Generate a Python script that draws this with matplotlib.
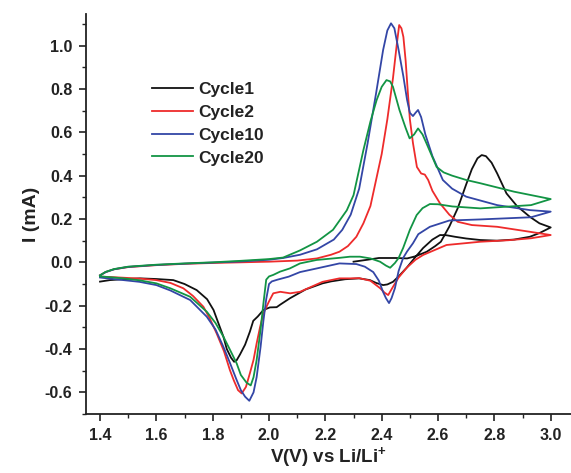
import matplotlib
matplotlib.use('Agg')
import matplotlib.pyplot as plt
from matplotlib.ticker import MultipleLocator

plt.rcParams['font.family'] = ['Liberation Sans', 'DejaVu Sans']
plt.rcParams['mathtext.fontset'] = 'custom'
plt.rcParams['mathtext.bf'] = 'Liberation Sans:bold'
plt.rcParams['mathtext.rm'] = 'Liberation Sans'
plt.rcParams['axes.unicode_minus'] = False

# Cycle 1 (starts at OCV ~2.3 V, goes up to 3.0 then down to 1.4)
V1 = [2.30, 2.35, 2.39, 2.45, 2.49, 2.52, 2.56, 2.59, 2.61, 2.64, 2.67, 2.70, 2.72, 2.74, 2.755,
      2.77, 2.79, 2.81, 2.843, 2.88, 2.926, 2.96, 3.00,
      2.96, 2.926, 2.87, 2.81, 2.75, 2.70, 2.66, 2.63, 2.607, 2.58, 2.547, 2.52, 2.488, 2.46,
      2.44, 2.42, 2.405, 2.38, 2.358, 2.32, 2.27, 2.22, 2.19, 2.13, 2.074, 2.04, 2.027,
      2.003, 1.98, 1.96, 1.944, 1.932, 1.915, 1.897, 1.885, 1.876, 1.865, 1.85, 1.838,
      1.82, 1.803, 1.78, 1.743, 1.70, 1.66, 1.60, 1.542, 1.48, 1.435, 1.40]
I1 = [0.003, 0.012, 0.020, 0.020, 0.018, 0.028, 0.049, 0.075, 0.095, 0.165, 0.25, 0.36, 0.43, 0.48, 0.495,
      0.49, 0.46, 0.41, 0.318, 0.26, 0.21, 0.18, 0.161,
      0.135, 0.118, 0.105, 0.100, 0.103, 0.110, 0.118, 0.125, 0.126, 0.105, 0.066, 0.025, -0.026, -0.065,
      -0.09, -0.102, -0.105, -0.095, -0.082, -0.074, -0.078, -0.088, -0.097, -0.125, -0.166, -0.195, -0.207,
      -0.208, -0.22, -0.25, -0.27, -0.32, -0.38, -0.425, -0.452, -0.459, -0.44, -0.40, -0.343,
      -0.28, -0.22, -0.17, -0.128, -0.10, -0.082, -0.077, -0.074, -0.078, -0.082, -0.089]

# Cycle 2
V2 = [1.40, 1.42, 1.45, 1.50, 1.60, 1.70, 1.80, 1.90, 2.00, 2.10, 2.17, 2.22, 2.25, 2.28,
      2.31, 2.335, 2.36, 2.38, 2.40, 2.42, 2.44, 2.453, 2.462, 2.47, 2.477, 2.485, 2.493,
      2.50, 2.511, 2.525, 2.54, 2.553, 2.565, 2.58, 2.607, 2.64, 2.67, 2.72, 2.81, 2.926, 3.00,
      2.93, 2.85, 2.75, 2.63, 2.547, 2.52, 2.488, 2.46, 2.44, 2.423, 2.41, 2.394, 2.36, 2.32,
      2.29, 2.25, 2.19, 2.11, 2.075, 2.04, 2.015, 2.00, 1.98, 1.968, 1.956, 1.945, 1.932,
      1.918, 1.903, 1.89, 1.875, 1.861, 1.84, 1.814, 1.79, 1.767, 1.73, 1.696, 1.65, 1.60,
      1.54, 1.483, 1.44, 1.40]
I2 = [-0.060, -0.045, -0.032, -0.022, -0.013, -0.007, -0.003, 0.000, 0.003, 0.008, 0.018, 0.035,
      0.049, 0.075, 0.118, 0.18, 0.26, 0.38, 0.50, 0.66, 0.85, 1.00, 1.095, 1.08, 1.04, 0.93, 0.78,
      0.66, 0.55, 0.44, 0.41, 0.405, 0.38, 0.33, 0.272, 0.22, 0.187, 0.172, 0.164, 0.141, 0.126,
      0.111, 0.102, 0.095, 0.080, 0.034, 0.012, -0.026, -0.07, -0.113, -0.151, -0.14, -0.119,
      -0.085, -0.073, -0.074, -0.074, -0.09, -0.136, -0.143, -0.136, -0.143, -0.18, -0.235,
      -0.30, -0.374, -0.45, -0.512, -0.575, -0.605, -0.59, -0.545, -0.497, -0.41, -0.328,
      -0.26, -0.205, -0.155, -0.12, -0.095, -0.082, -0.075, -0.071, -0.068, -0.066]

# Cycle 10
V10 = [1.40, 1.42, 1.45, 1.50, 1.60, 1.70, 1.80, 1.90, 2.00, 2.05, 2.11, 2.17, 2.23, 2.26,
       2.29, 2.32, 2.35, 2.38, 2.405, 2.42, 2.433, 2.445, 2.46, 2.477, 2.49, 2.50, 2.511, 2.52,
       2.529, 2.54, 2.555, 2.58, 2.617, 2.65, 2.70, 2.81, 2.926, 3.00,
       2.93, 2.75, 2.64, 2.571, 2.53, 2.511, 2.49, 2.476, 2.46, 2.447, 2.435, 2.426, 2.415,
       2.405, 2.39, 2.37, 2.34, 2.31, 2.25, 2.17, 2.11, 2.07, 2.03, 2.01, 2.00, 1.99, 1.98,
       1.97, 1.956, 1.945, 1.93, 1.915, 1.90, 1.885, 1.86, 1.838, 1.81, 1.779, 1.72, 1.65,
       1.60, 1.54, 1.483, 1.44, 1.40]
I10 = [-0.060, -0.045, -0.032, -0.021, -0.012, -0.006, -0.001, 0.004, 0.012, 0.02, 0.035, 0.06,
       0.105, 0.15, 0.22, 0.34, 0.55, 0.78, 0.98, 1.07, 1.103, 1.08, 0.98, 0.857, 0.75, 0.69,
       0.675, 0.69, 0.703, 0.67, 0.59, 0.49, 0.38, 0.34, 0.303, 0.264, 0.241, 0.234,
       0.208, 0.198, 0.193, 0.164, 0.13, 0.088, 0.05, 0.02, -0.04, -0.119, -0.165, -0.188, -0.165,
       -0.137, -0.085, -0.045, -0.02, -0.008, -0.005, -0.028, -0.045, -0.066, -0.08, -0.088,
       -0.10, -0.17, -0.27, -0.39, -0.53, -0.60, -0.639, -0.62, -0.59, -0.543, -0.46, -0.39,
       -0.31, -0.251, -0.174, -0.13, -0.105, -0.09, -0.082, -0.076, -0.07]

# Cycle 20
V20 = [1.40, 1.42, 1.45, 1.50, 1.60, 1.70, 1.80, 1.90, 2.00, 2.05, 2.11, 2.17, 2.227, 2.276,
       2.30, 2.335, 2.36, 2.382, 2.40, 2.417, 2.43, 2.44, 2.463, 2.485, 2.499, 2.515, 2.529,
       2.545, 2.559, 2.595, 2.62, 2.65, 2.70, 2.75, 2.87, 3.00,
       2.93, 2.75, 2.65, 2.60, 2.571, 2.545, 2.524, 2.50, 2.476, 2.46, 2.447, 2.43, 2.415,
       2.394, 2.36, 2.323, 2.287, 2.252, 2.169, 2.11, 2.074, 2.039, 2.015, 2.00, 1.99, 1.98,
       1.97, 1.956, 1.945, 1.935, 1.92, 1.90, 1.885, 1.86, 1.838, 1.81, 1.779, 1.72, 1.65,
       1.60, 1.54, 1.483, 1.44, 1.40]
I20 = [-0.060, -0.044, -0.031, -0.020, -0.011, -0.005, 0.000, 0.007, 0.015, 0.022, 0.055, 0.095,
       0.15, 0.24, 0.31, 0.518, 0.65, 0.749, 0.81, 0.841, 0.835, 0.81, 0.703, 0.62, 0.572, 0.59,
       0.618, 0.59, 0.549, 0.44, 0.415, 0.40, 0.38, 0.365, 0.326, 0.292,
       0.264, 0.249, 0.258, 0.268, 0.269, 0.25, 0.218, 0.15, 0.066, 0.02, -0.003, -0.025, -0.015,
       0.003, 0.018, 0.026, 0.026, 0.021, 0.011, -0.005, -0.028, -0.043, -0.058, -0.065, -0.08,
       -0.19, -0.31, -0.451, -0.53, -0.568, -0.555, -0.52, -0.466, -0.40, -0.343, -0.28, -0.228,
       -0.159, -0.12, -0.097, -0.083, -0.074, -0.069, -0.065]

labels = ['Cycle1', 'Cycle2', 'Cycle10', 'Cycle20']
colors = ['#111111', '#ee2b2b', '#3346a6', '#129444']

fig = plt.figure(figsize=(5.71, 4.73), dpi=100)
ax = fig.add_axes([0.151, 0.1247, 0.849, 0.8457])

for V, I, lab, c in zip([V1, V2, V10, V20], [I1, I2, I10, I20], labels, colors):
    ax.plot(V, I, color=c, lw=1.3, label=lab, solid_joinstyle='round')

ax.set_xlim(1.351, 3.072)
ax.set_ylim(-0.70, 1.146)
ax.xaxis.set_major_locator(MultipleLocator(0.2))
ax.xaxis.set_minor_locator(MultipleLocator(0.1))
ax.yaxis.set_major_locator(MultipleLocator(0.2))
ax.yaxis.set_minor_locator(MultipleLocator(0.1))
ax.spines['top'].set_visible(False)
ax.spines['right'].set_visible(False)
for s in ['left', 'bottom']:
    ax.spines[s].set_linewidth(1.3)
    ax.spines[s].set_color('#222222')
ax.tick_params(which='major', direction='out', length=5, width=1.2, color='#222222',
               labelsize=11.5, pad=5, labelcolor='#222222')
ax.tick_params(which='minor', direction='out', length=3, width=1.0, color='#222222')
for t in ax.get_xticklabels() + ax.get_yticklabels():
    t.set_fontweight('bold')

ax.set_xlabel('V(V) vs Li/Li$^{\\mathbf{+}}$', fontsize=13.5, fontweight='bold', color='#222222', labelpad=2)
ax.set_ylabel('I (mA)', fontsize=14, fontweight='bold', color='#222222', labelpad=3)

leg = ax.legend(loc='upper left', bbox_to_anchor=(152 / 571, 1 - 82 / 473), bbox_transform=fig.transFigure,
                frameon=False, handlelength=2.35, handletextpad=0.3, labelspacing=0.44, borderpad=0,
                borderaxespad=0, prop={'weight': 'bold', 'size': 12.5})
for t in leg.get_texts():
    t.set_color('#222222')

fig.savefig('out.png', dpi=100)
